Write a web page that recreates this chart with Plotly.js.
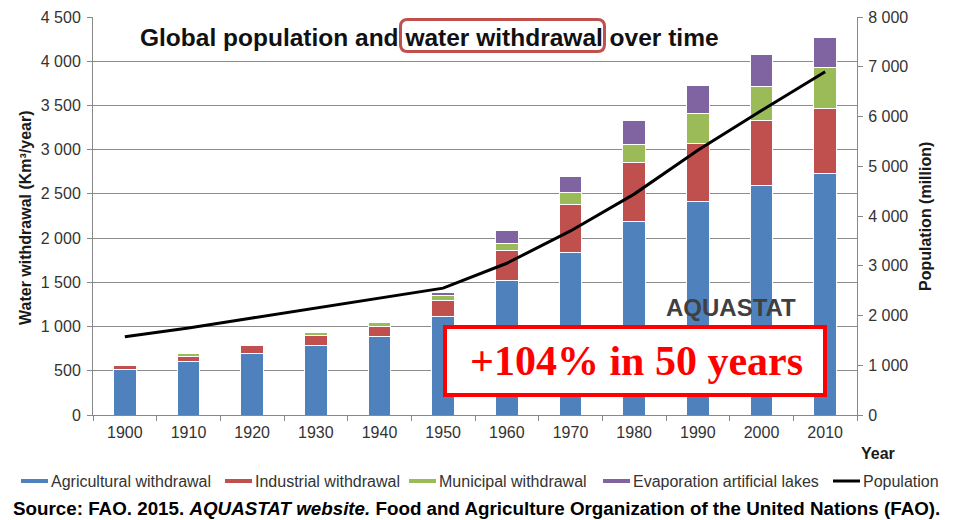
<!DOCTYPE html>
<html>
<head>
<meta charset="utf-8">
<script src="https://cdn.plot.ly/plotly-3.0.1.min.js"></script>
<style>html,body{margin:0;padding:0;background:#fff;}#chart{width:954px;height:520px;}</style>
</head>
<body>
<div id="chart"></div>
<script>
// ---- data ----
const years = ['1900','1910','1920','1930','1940','1950','1960','1970','1980','1990','2000','2010'];
const agricultural = [515, 600, 700, 790, 885, 1110, 1525, 1835, 2185, 2410, 2595, 2735];
const industrial   = [50, 65, 90, 110, 120, 190, 340, 550, 670, 665, 735, 735];
const municipal    = [5, 30, 10, 30, 40, 55, 75, 130, 205, 335, 385, 455];
const evaporation  = [0, 0, 0, 0, 5, 25, 150, 180, 265, 320, 360, 345];
const population   = [1575, 1750, 1950, 2150, 2350, 2550, 3050, 3700, 4440, 5320, 6120, 6900];

const seriesNames = ['Agricultural withdrawal','Industrial withdrawal','Municipal withdrawal','Evaporation artificial lakes','Population'];
const seriesColors = ['#4F81BD','#C0504D','#9BBB59','#8064A2','#000000'];
const barData = [agricultural, industrial, municipal, evaporation];

// ---- geometry helpers (plot area in pixels) ----
const W = 954, H = 520;
const M = {l: 93, r: 97, t: 17, b: 105};
const PW = W - M.l - M.r, PH = H - M.t - M.b;
const px = x => (x - M.l) / PW;
const py = y => (H - M.b - y) / PH;

function roundRect(x0, y0, x1, y1, r) {
  const P = (x, y) => px(x).toFixed(5) + ',' + py(y).toFixed(5);
  return 'M' + P(x0 + r, y0) + ' L' + P(x1 - r, y0) + ' Q' + P(x1, y0) + ' ' + P(x1, y0 + r) +
    ' L' + P(x1, y1 - r) + ' Q' + P(x1, y1) + ' ' + P(x1 - r, y1) +
    ' L' + P(x0 + r, y1) + ' Q' + P(x0, y1) + ' ' + P(x0, y1 - r) +
    ' L' + P(x0, y0 + r) + ' Q' + P(x0, y0) + ' ' + P(x0 + r, y0) + ' Z';
}

const FONT = 'Liberation Sans, Arial, sans-serif';
const traces = [];
barData.forEach((vals, i) => {
  traces.push({
    type: 'bar', x: years, y: vals, name: seriesNames[i],
    marker: {color: seriesColors[i], line: {color: '#ffffff', width: 1}},
    showlegend: false
  });
});
traces.push({
  type: 'scatter', mode: 'lines', x: years, y: population, yaxis: 'y2',
  name: seriesNames[4], line: {color: '#000000', width: 3}, showlegend: false
});

// legend laid out by hand (line swatches like the reference)
const legendSwatchX = [21, 225, 409, 603, 833];
const legendY = 481;
const legendShapes = seriesNames.map((n, i) => ({
  type: 'line', xref: 'paper', yref: 'paper',
  x0: px(legendSwatchX[i]), x1: px(legendSwatchX[i] + 27), y0: py(legendY), y1: py(legendY),
  line: {color: seriesColors[i], width: i === 4 ? 3 : 4}, layer: 'above'
}));
const legendAnns = seriesNames.map((n, i) => ({
  text: n, xref: 'paper', yref: 'paper', x: px(legendSwatchX[i] + 28), y: py(legendY),
  xanchor: 'left', yanchor: 'middle', showarrow: false,
  font: {family: FONT, size: 16, color: '#333333'}
}));

const layout = {
  width: W, height: H,
  margin: M,
  paper_bgcolor: '#ffffff', plot_bgcolor: '#ffffff',
  separators: '. ',
  barmode: 'stack', bargap: 0.64,
  font: {family: FONT, size: 16, color: '#333333'},
  showlegend: false,
  xaxis: {
    type: 'category', tickson: 'boundaries', ticks: 'outside', ticklen: 5,
    tickcolor: '#888888', showline: true, linecolor: '#888888', linewidth: 1,
    showgrid: false, tickfont: {size: 16, color: '#333333'}, ticklabelstandoff: 3, fixedrange: true
  },
  yaxis: {
    range: [0, 4500], dtick: 500, tickformat: ',d', ticks: 'outside', ticklen: 5,
    tickcolor: '#888888', showline: true, linecolor: '#888888', linewidth: 1,
    showgrid: true, gridcolor: '#8c8c8c', gridwidth: 1, zeroline: false,
    tickfont: {size: 16, color: '#333333'}, ticklabelstandoff: 3, fixedrange: true
  },
  yaxis2: {
    overlaying: 'y', side: 'right', range: [0, 8000], dtick: 1000, tickformat: ',d',
    ticks: 'outside', ticklen: 5, tickcolor: '#888888', showline: true, linecolor: '#888888',
    linewidth: 1, showgrid: false, zeroline: false,
    tickfont: {size: 16, color: '#333333'}, ticklabelstandoff: 2, fixedrange: true
  },
  shapes: [
    {type: 'path', xref: 'paper', yref: 'paper', path: roundRect(400.5, 19.5, 604.5, 51.5, 7),
     line: {color: '#C0504D', width: 3}, fillcolor: 'rgba(0,0,0,0)', layer: 'above'},
    {type: 'rect', xref: 'paper', yref: 'paper', x0: px(445), x1: px(825), y0: py(395), y1: py(327),
     line: {color: '#FF0000', width: 4}, fillcolor: '#ffffff', layer: 'above'}
  ].concat(legendShapes),
  annotations: [
    {text: '<b>Global population and water withdrawal over time</b>', xref: 'paper', yref: 'paper',
     x: px(138), xanchor: 'left', y: py(37), yanchor: 'middle', showarrow: false,
     font: {family: FONT, size: 24.5, color: '#111111'}},
    {text: '<b>AQUASTAT</b>', xref: 'paper', yref: 'paper', x: px(731), y: py(307),
     xanchor: 'center', yanchor: 'middle', showarrow: false,
     font: {family: FONT, size: 24, color: '#404040'}},
    {text: '<b>+104% in 50 years</b>', xref: 'paper', yref: 'paper', x: px(636), y: py(361),
     xanchor: 'center', yanchor: 'middle', showarrow: false,
     font: {family: 'Liberation Serif, Times New Roman, serif', size: 42, color: '#FF0000'}},
    {text: '<b>Water withdrawal (Km³/year)</b>', xref: 'paper', yref: 'paper', x: px(25), y: py(218),
     xanchor: 'center', yanchor: 'middle', textangle: -90, showarrow: false,
     font: {family: FONT, size: 16, color: '#1a1a1a'}},
    {text: '<b>Population (million)</b>', xref: 'paper', yref: 'paper', x: px(926), y: py(217),
     xanchor: 'center', yanchor: 'middle', textangle: -90, showarrow: false,
     font: {family: FONT, size: 16, color: '#1a1a1a'}},
    {text: '<b>Year</b>', xref: 'paper', yref: 'paper', x: px(878), y: py(453),
     xanchor: 'center', yanchor: 'middle', showarrow: false,
     font: {family: FONT, size: 16, color: '#1a1a1a'}},
    {text: '<b>Source: FAO. 2015. <i>AQUASTAT website.</i> Food and Agriculture Organization of the United Nations (FAO).</b>',
     xref: 'paper', yref: 'paper', x: px(476.5), y: py(508), xanchor: 'center', yanchor: 'middle',
     showarrow: false, font: {family: FONT, size: 18.8, color: '#000000'}}
  ].concat(legendAnns)
};

Plotly.newPlot('chart', traces, layout, {displayModeBar: false, staticPlot: true});
</script>
</body>
</html>
